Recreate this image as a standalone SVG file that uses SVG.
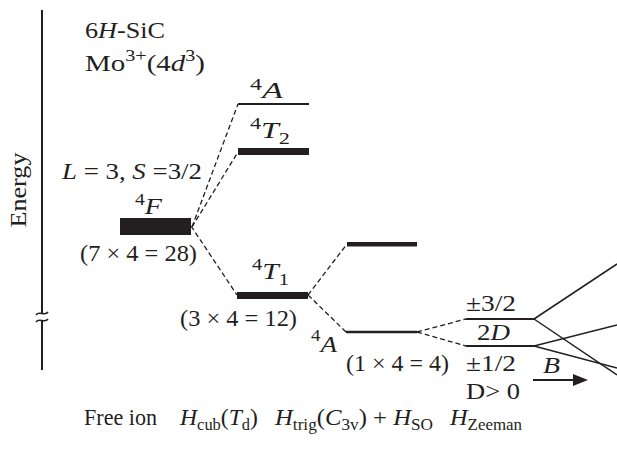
<svg xmlns="http://www.w3.org/2000/svg" width="617" height="457" viewBox="0 0 617 457">
<style>
text{font-family:"Liberation Serif","Times New Roman",serif;font-size:23px;fill:#231f20}
.i{font-style:italic}
.sup{font-size:16px}
.dash{stroke:#231f20;stroke-width:1.3;stroke-dasharray:5 3;fill:none}
.lvl{stroke:#231f20;fill:none}
.sol{stroke:#231f20;stroke-width:1.5;fill:none}
</style>
<rect width="617" height="457" fill="#fff"/>
<g id="axis">
<line x1="42" y1="10" x2="42" y2="314" stroke="#231f20" stroke-width="2"/>
<line x1="42" y1="321" x2="42" y2="370" stroke="#231f20" stroke-width="2"/>
<path d="M36,315 C39,310 45,317 48,312" class="sol" stroke-width="1.2"/>
<path d="M36,322 C39,317 45,324 48,319" class="sol" stroke-width="1.2"/>
<text transform="translate(26 190) rotate(-90)" text-anchor="middle" textLength="75" lengthAdjust="spacingAndGlyphs">Energy</text>
</g>
<g id="title">
<text x="85" y="38" textLength="80" lengthAdjust="spacingAndGlyphs">6<tspan class="i">H</tspan>-SiC</text>
<text x="85" y="71" textLength="120" lengthAdjust="spacingAndGlyphs">Mo<tspan class="sup" dy="-10">3+</tspan><tspan dy="10">(4</tspan><tspan class="i">d</tspan><tspan class="sup" dy="-10">3</tspan><tspan dy="10">)</tspan></text>
</g>
<g id="free-ion">
<rect x="120" y="218" width="71" height="17" fill="#231f20"/>
<text x="62" y="179" textLength="140" lengthAdjust="spacingAndGlyphs"><tspan class="i">L</tspan> = 3, <tspan class="i">S</tspan> =3/2</text>
<text x="135" y="214" textLength="27" lengthAdjust="spacingAndGlyphs"><tspan class="sup" dy="-9">4</tspan><tspan class="i" dy="9">F</tspan></text>
<text x="80" y="261" textLength="117" lengthAdjust="spacingAndGlyphs">(7 × 4 = 28)</text>
</g>
<g id="level-4A-cub">
<line x1="238" y1="104" x2="309" y2="104" class="lvl" stroke-width="2.2"/>
<text x="250" y="98" textLength="33" lengthAdjust="spacingAndGlyphs"><tspan class="sup" dy="-8">4</tspan><tspan class="i" dy="8">A</tspan></text>
</g>
<g id="level-4T2">
<rect x="238" y="148" width="71" height="7" fill="#231f20"/>
<text x="250" y="138" textLength="40" lengthAdjust="spacingAndGlyphs"><tspan class="sup" dy="-9">4</tspan><tspan class="i" dy="9">T</tspan><tspan class="sup" dy="6">2</tspan></text>
</g>
<g id="level-4T1">
<rect x="237" y="292" width="71" height="7" fill="#231f20"/>
<text x="252" y="279" textLength="37" lengthAdjust="spacingAndGlyphs"><tspan class="sup" dy="-9">4</tspan><tspan class="i" dy="9">T</tspan><tspan class="sup" dy="6">1</tspan></text>
<text x="180" y="326" textLength="117" lengthAdjust="spacingAndGlyphs">(3 × 4 = 12)</text>
</g>
<g id="level-trig-upper">
<rect x="347" y="242" width="70" height="4.5" fill="#231f20"/>
</g>
<g id="level-4A-trig">
<line x1="346" y1="332" x2="417" y2="332" class="lvl" stroke-width="2.4"/>
<text x="311" y="352" textLength="26" lengthAdjust="spacingAndGlyphs"><tspan class="sup" dy="-11">4</tspan><tspan class="i" dy="11">A</tspan></text>
<text x="346" y="371" textLength="103" lengthAdjust="spacingAndGlyphs">(1 × 4 = 4)</text>
</g>
<g id="level-pm32">
<line x1="466" y1="319" x2="534" y2="319" class="lvl" stroke-width="1.8"/>
<text x="466" y="311" textLength="50" lengthAdjust="spacingAndGlyphs">±3/2</text>
<text x="477" y="340" textLength="33" lengthAdjust="spacingAndGlyphs">2<tspan class="i">D</tspan></text>
</g>
<g id="level-pm12">
<line x1="466" y1="346" x2="534" y2="346" class="lvl" stroke-width="1.8"/>
<text x="466" y="371" textLength="50" lengthAdjust="spacingAndGlyphs">±1/2</text>
<text x="466" y="399" textLength="54" lengthAdjust="spacingAndGlyphs">D&gt; 0</text>
</g>
<g id="field">
<text class="i" x="543" y="373" textLength="17" lengthAdjust="spacingAndGlyphs">B</text>
<line x1="533" y1="380" x2="575" y2="380" stroke="#231f20" stroke-width="2"/>
<polygon points="573,374 588,380 573,386" fill="#231f20"/>
</g>
<g id="connectors">
<line x1="192" y1="227" x2="238" y2="104" class="dash"/>
<line x1="192" y1="227" x2="238" y2="152" class="dash"/>
<line x1="191" y1="226" x2="237" y2="295" class="dash"/>
<line x1="308" y1="295" x2="347" y2="244" class="dash"/>
<line x1="308" y1="295" x2="346" y2="332" class="dash"/>
<line x1="417" y1="332" x2="466" y2="319" class="dash"/>
<line x1="417" y1="332" x2="466" y2="346" class="dash"/>
<line x1="534" y1="319" x2="617" y2="264" class="sol"/>
<line x1="534" y1="319" x2="617" y2="375" class="sol"/>
<line x1="534" y1="346" x2="617" y2="325" class="sol"/>
<line x1="534" y1="346" x2="617" y2="368" class="sol"/>
</g>
<g id="axis-labels">
<text x="84" y="425" textLength="73" lengthAdjust="spacingAndGlyphs">Free ion</text>
<text x="180" y="425" textLength="78" lengthAdjust="spacingAndGlyphs"><tspan class="i">H</tspan><tspan class="sup" dy="5">cub</tspan><tspan dy="-5">(</tspan><tspan class="i">T</tspan><tspan class="sup" dy="5">d</tspan><tspan dy="-5">)</tspan></text>
<text x="275" y="425" textLength="158" lengthAdjust="spacingAndGlyphs"><tspan class="i">H</tspan><tspan class="sup" dy="5">trig</tspan><tspan dy="-5">(</tspan><tspan class="i">C</tspan><tspan class="sup" dy="5">3v</tspan><tspan dy="-5">) + </tspan><tspan class="i">H</tspan><tspan class="sup" dy="5">SO</tspan></text>
<text x="450" y="425" textLength="72" lengthAdjust="spacingAndGlyphs"><tspan class="i">H</tspan><tspan class="sup" dy="5">Zeeman</tspan></text>
</g>
</svg>
